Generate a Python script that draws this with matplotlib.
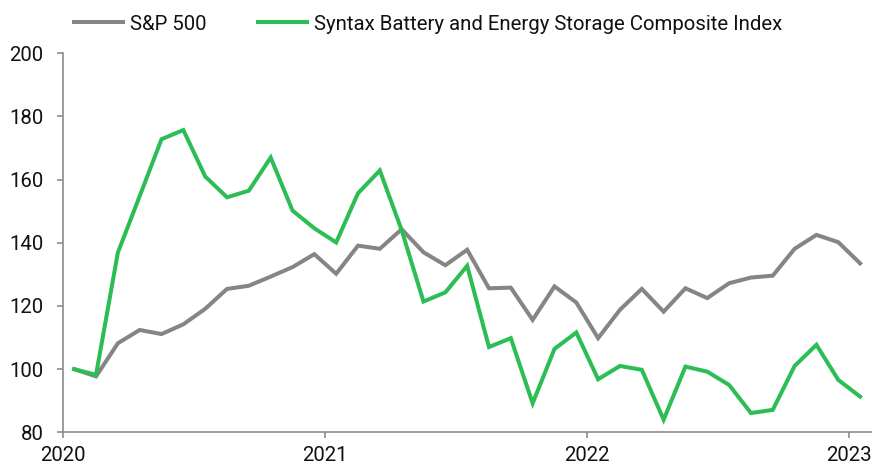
import matplotlib
matplotlib.use("Agg")
import matplotlib.pyplot as plt
import numpy as np

plt.rcParams['font.family'] = ['Roboto', 'DejaVu Sans']

months = np.arange(37)  # Jan 2020 .. Jan 2023, mid-month points
sp500 = [100, 97.7, 108.2, 112.4, 111.1, 114.2, 119.1, 125.4, 126.4, 129.3, 132.3, 136.4,
         130.2, 139.1, 138.1, 144.3, 137, 132.9, 137.8, 125.6, 125.8, 115.6, 126.2, 121.1,
         109.8, 118.8, 125.4, 118.2, 125.6, 122.5, 127.2, 129, 129.6, 138.1, 142.5, 140.2, 133.5]
syntax = [100, 98.2, 136.9, 154.8, 172.8, 175.7, 161, 154.4, 156.5, 167, 150.2, 144.6,
          140.1, 155.7, 162.9, 144, 121.4, 124.3, 132.7, 107, 109.8, 89.2, 106.4, 111.6,
          96.8, 101, 99.8, 84, 100.8, 99.2, 95, 86.1, 87.1, 101, 107.7, 96.6, 91.3]
series_names = ["S&P 500", "Syntax Battery and Energy Storage Composite Index"]
year_ticks = [2020, 2021, 2022, 2023]
y_ticks = [80, 100, 120, 140, 160, 180, 200]

x = 2020 + (months + 0.5) / 12.0

fig = plt.figure(figsize=(8.84, 4.65), dpi=100)
ax = fig.add_axes([0.0716, 0.0703, 0.9137, 0.8151])

gray = '#858585'
green = '#2CBE55'
ax.plot(x, sp500, color=gray, lw=2.9, label=series_names[0], solid_joinstyle='miter')
ax.plot(x, syntax, color=green, lw=2.9, label=series_names[1], solid_joinstyle='miter')

ax.set_xlim(2020, 2023 + 1/12)
ax.set_ylim(80, 200)
ax.set_xticks(year_ticks)
ax.set_xticklabels([str(v) for v in year_ticks])
ax.set_yticks(y_ticks)

for s in ['top', 'right']:
    ax.spines[s].set_visible(False)
for s in ['left', 'bottom']:
    ax.spines[s].set_color('#8c8c8c')
    ax.spines[s].set_linewidth(1.2)
ax.tick_params(axis='both', colors='#8c8c8c', labelcolor='#111111', labelsize=14.7,
               length=4.3, width=1.2)
ax.tick_params(axis='y', pad=10)
ax.tick_params(axis='x', pad=5.5)

leg = ax.legend(loc='center left', bbox_to_anchor=(74/884, 1 - 24/465),
                bbox_transform=fig.transFigure, ncol=2, frameon=False,
                fontsize=14.7, handlelength=2.4, handletextpad=0.33,
                columnspacing=2.55, borderpad=0, borderaxespad=0)
for t in leg.get_texts():
    t.set_color('#111111')

fig.savefig('out.png', dpi=100)
